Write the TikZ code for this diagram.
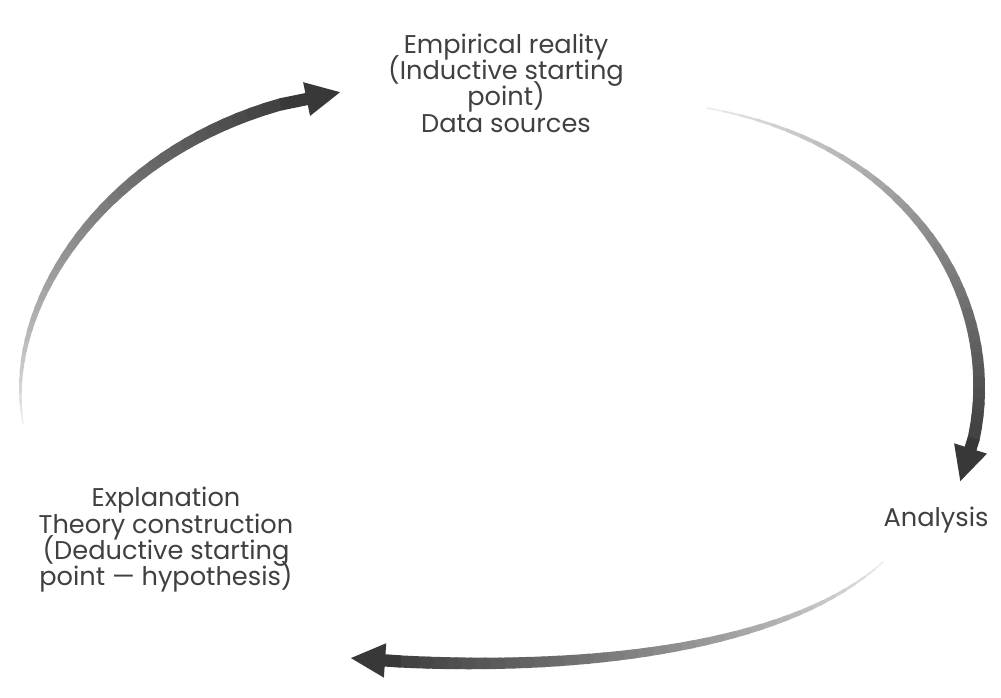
\documentclass[tikz,border=0pt]{standalone}
\usepackage{fontspec}
\setmainfont{Poppins}
\usetikzlibrary{arrows.meta,positioning}

\begin{document}
\begin{tikzpicture}[
		x=0.02cm,y=-0.02cm,
		lab/.style={font={\fontsize{14.6}{15}\selectfont\lineskiplimit-20pt\relax},text=black!75,align=center,inner sep=0pt},
		tip/.style={-{Triangle[length=20pt,width=18pt]},line width=7pt,draw=black!78}
		]
		\useasboundingbox (0,0) rectangle (1001,697);
		
		% --- The three stages of the cycle
		\node[lab] (emp) at (506,83) {Empirical reality\\(Inductive starting\\point)\\Data sources};
		\node[lab] (ana) at (936,520) {Analysis};
		\node[lab] (expl) at (166,540) {Explanation\\Theory construction\\(Deductive starting\\point — hypothesis)};
		
		% --- End points and control points of the arrows
		\coordinate (s1) at (23,423);  \coordinate (p1) at (0,290);
		\coordinate (q1) at (130,120); \coordinate (e1) at (341,92);
		\coordinate (s2) at (707,108); \coordinate (p2) at (940,150);
		\coordinate (q2) at (1020,340); \coordinate (e2) at (960,482);
		\coordinate (s3) at (883,562); \coordinate (p3) at (770,665);
		\coordinate (q3) at (510,672); \coordinate (e3) at (350,658);
		
		% --- Tapered arrows, light at the tail and dark at the head
		\foreach \s/\p/\q/\e in {s1/p1/q1/e1,s2/p2/q2/e2,s3/p3/q3/e3}{
			\foreach \i in {0,...,40}
			\path (\s) .. controls (\p) and (\q) .. (\e) coordinate[pos=\i/40] (m\i);
			\foreach \i in {0,...,35}{
				\pgfmathtruncatemacro{\j}{\i+1}
				\pgfmathsetmacro{\w}{0.6+6.4*sin(90*\j/40)}
				\pgfmathsetmacro{\g}{4+76*(\j/40)^0.8}
				\draw[line width=\w pt,draw=black!\g,line cap=round] (m\i) -- (m\j);
			}
			\draw[tip] (m36) -- (\e);
		}
		
	\end{tikzpicture}
\end{document}
